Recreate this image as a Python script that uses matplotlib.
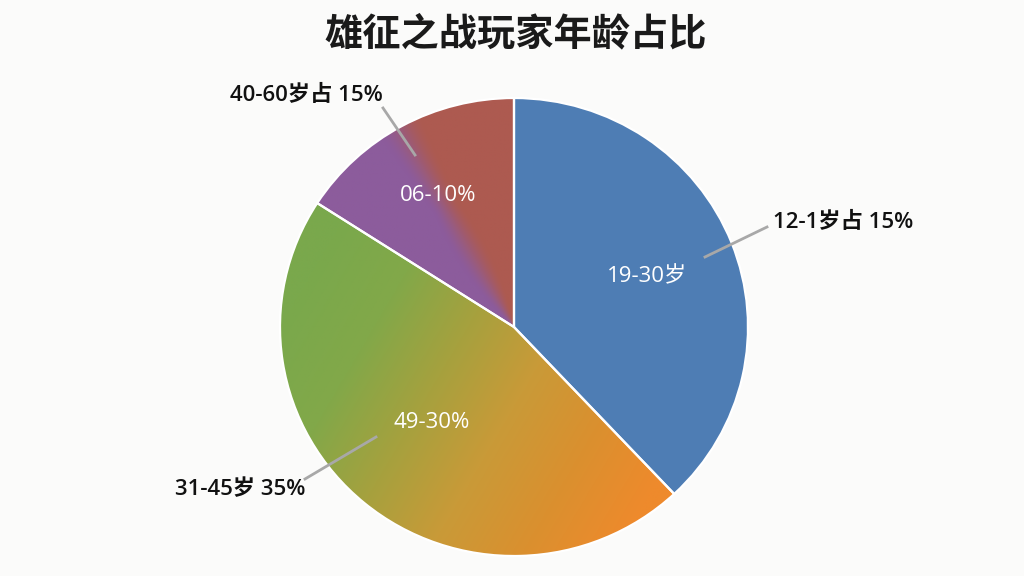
import numpy as np
import matplotlib
matplotlib.use("Agg")
import matplotlib.pyplot as plt
from matplotlib.lines import Line2D
from matplotlib.colors import LinearSegmentedColormap

plt.rcParams['font.family'] = ['Noto Sans CJK SC', 'DejaVu Sans']
LABEL_FONT = ['Open Sans', 'Noto Sans CJK SC', 'DejaVu Sans']

# ---- data ----
title = "雄征之战玩家年龄占比"
shares = [38.0, 46.1, 15.9]          # blue, orange-green, purple-red wedges
inner_labels = ["19-30岁", "49-30%", "06-10%"]
outer_labels = ["12-1岁占 15%", "31-45岁 35%", "40-60岁占 15%"]
blue = "#4E7DB4"
grad_big = ["#EE8A2C", "#DA902F", "#C99A38", "#A6A13E", "#82A849", "#7AA84C"]
grad_small = ["#8C5C9C", "#AD5A50"]

W, H = 1024, 576
fig = plt.figure(figsize=(W / 100, H / 100), dpi=100, facecolor="#FBFBFA")

cx, cy, rx, ry = 514, 327, 234, 229
ax = fig.add_axes([(cx - rx) / W, (H - cy - ry) / H, 2 * rx / W, 2 * ry / H])
ax.set_facecolor("none")

wedges, _ = ax.pie(shares, radius=1, startangle=90, counterclock=False,
                   colors=[blue, "#C89A38", "#9A5B7A"],
                   wedgeprops=dict(edgecolor="white", linewidth=1.6))
ax.set_aspect("auto")
ax.set_xlim(-1, 1)
ax.set_ylim(-1, 1)
ax.axis("off")

# gradient fills clipped to wedges
n = 500
xs = np.linspace(-1, 1, n)
ys = np.linspace(-1, 1, n)
X, Y = np.meshgrid(xs, ys)
PX = X * rx
PY = -Y * ry  # pixel-space offsets (y down)

# big wedge: linear gradient orange (lower right) -> green (upper left)
p = -0.85 * PX - 0.5 * PY
t = np.clip((p + 200) / 400, 0, 1)
cmap_big = LinearSegmentedColormap.from_list("big", grad_big)
im1 = ax.imshow(cmap_big(t), extent=(-1, 1, -1, 1), origin="lower", aspect="auto",
                interpolation="bilinear", zorder=1.5)
im1.set_clip_path(wedges[1])

# small wedge: angular blend purple -> red (wider blend near centre)
theta = np.degrees(np.arctan2(X, Y)) % 360
R = np.sqrt(X ** 2 + Y ** 2)
width = 12 + 30 * np.clip(1 - R / 0.6, 0, 1)
s = np.clip((theta - 331 + width / 2) / width, 0, 1)
s = s * s * (3 - 2 * s)
cmap_small = LinearSegmentedColormap.from_list("small", grad_small)
im2 = ax.imshow(cmap_small(s), extent=(-1, 1, -1, 1), origin="lower", aspect="auto",
                interpolation="bilinear", zorder=1.5)
im2.set_clip_path(wedges[2])

for w in wedges:
    w.set_zorder(2)
for w in wedges[1:]:
    w.set_facecolor("none")

# title
fig.text(516 / W, 1 - 34 / H, title, ha="center", va="center",
         fontsize=27.5, fontweight="bold", color="#1A1A1A")

# inner labels (white)
inner_pos = [(647, 277), (432, 422), (438, 195)]
for lab, (x, y) in zip(inner_labels, inner_pos):
    fig.text(x / W, 1 - y / H, lab, ha="center", va="center",
             fontsize=16, color="white", family=LABEL_FONT)

# outer labels with leader lines
outer_pos = [(773, 222), (175, 490), (230, 95)]
leaders = [((705, 257), (767, 227)), ((376, 437), (305, 479)), ((415, 155), (383, 108))]
for lab, (x, y) in zip(outer_labels, outer_pos):
    fig.text(x / W, 1 - y / H, lab, ha="left", va="center",
             fontsize=16, color="#111111", family=LABEL_FONT, fontweight="semibold")
for (a, b) in leaders:
    fig.add_artist(Line2D([a[0] / W, b[0] / W], [1 - a[1] / H, 1 - b[1] / H],
                          transform=fig.transFigure, color="#A8A8A8", lw=2))

fig.savefig("out.png", dpi=100, facecolor=fig.get_facecolor())
